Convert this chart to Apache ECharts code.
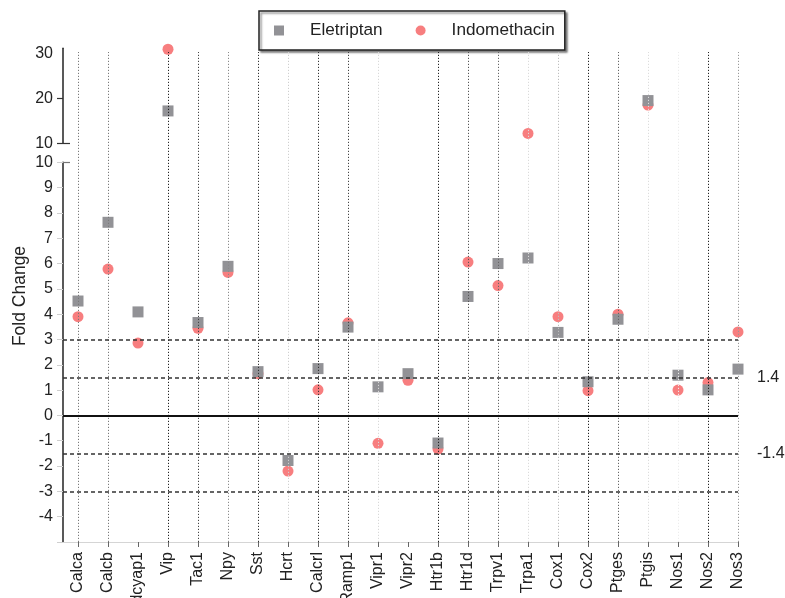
<!DOCTYPE html>
<html><head><meta charset="utf-8">
<script src="https://cdn.jsdelivr.net/npm/echarts@6/dist/echarts.min.js"></script>
<style>html,body{margin:0;padding:0;background:#fff}#c{width:785px;height:598px}</style>
</head><body><div id="c"></div>
<script>
// ---- data ----
const genes = ['Calca','Calcb','Adcyap1','Vip','Tac1','Npy','Sst','Hcrt','Calcrl','Ramp1','Vipr1','Vipr2','Htr1b','Htr1d','Trpv1','Trpa1','Cox1','Cox2','Ptges','Ptgis','Nos1','Nos2','Nos3'];
const eletriptan   = [4.52, 7.63, 4.09, 17.2, 3.67, 5.89, 1.73, -1.78, 1.85, 3.49, 1.13, 1.65, -1.09, 4.70, 6.00, 6.22, 3.28, 1.33, 3.80, 19.5, 1.59, 1.01, 1.83];
const indomethacin = [3.90, 5.78, 2.86, 30.9, 3.44, 5.65, 1.65, -2.20, 1.01, 3.66, -1.10, 1.39, -1.33, 6.06, 5.13, 12.2, 3.90, 0.98, 4.00, 18.5, 1.00, 1.30, 3.30];
const upperTickValues = [10, 20, 30];
const lowerTickValues = [-4, -3, -2, -1, 0, 1, 2, 3, 4, 5, 6, 7, 8, 9, 10];
const thresholds = [3, 1.5, -1.5, -3];
const thresholdLabels = ['', '1.4', '-1.4', ''];
const breakValue = 10;

// ---- styles ----
const guideShade = ['#7a7a7a','#7a7a7a',null,'#222','#444','#8a8a8a','#333','#cfcfcf','#333','#444','#d8d8d8',null,'#222','#555','#666','#dadada','#bdbdbd','#222','#666','#dcdcdc','#ececec','#222','#999'];
const FONT = "'Liberation Sans', Arial, sans-serif";
const GRAY = '#929296', RED = '#f77e7f';

const idx = genes.map((g, i) => i);
const lowerPart = arr => arr.map((v, i) => v <= breakValue ? [i, v] : null).filter(Boolean);
const upperPart = arr => arr.map((v, i) => v > breakValue ? [i, v] : null).filter(Boolean);

const chart = echarts.init(document.getElementById('c'), null, {renderer: 'canvas'});
const gridLR = {left: 63, right: 47, containLabel: false, outerBoundsMode: 'none'};
const option = {
  animation: false,
  textStyle: {fontFamily: FONT},
  legend: {
    left: 259, top: 11,
    padding: [11, 10, 11, 15],
    itemGap: 33, itemWidth: 10, itemHeight: 10,
    borderColor: '#222', borderWidth: 1.5, backgroundColor: '#fff',
    shadowColor: 'rgba(0,0,0,0.45)', shadowBlur: 2, shadowOffsetX: 2, shadowOffsetY: 2,
    textStyle: {fontSize: 17.2, color: '#222', fontFamily: FONT, padding: [0, 0, 0, 21]},
    data: [{name: 'Eletriptan', icon: 'rect'}, {name: 'Indomethacin', icon: 'circle'}]
  },
  graphic: [{
    type: 'text', x: 20, y: 296, rotation: Math.PI / 2,
    style: {text: 'Fold Change', fontSize: 17.5, fill: '#222', align: 'center', verticalAlign: 'middle', fontFamily: FONT}
  }],
  grid: [
    Object.assign({top: 48.35, height: 95}, gridLR),
    Object.assign({top: 162.3, bottom: 56}, gridLR),
    Object.assign({top: 52, bottom: 56}, gridLR)
  ],
  xAxis: [
    {type: 'value', gridIndex: 0, min: -0.5, max: genes.length - 1, show: false},
    {type: 'value', gridIndex: 1, min: -0.5, max: genes.length - 1,
      splitLine: {show: false},
      axisLine: {onZero: false, lineStyle: {color: '#d5d5d5', width: 1}},
      axisTick: {customValues: idx, length: 5, lineStyle: {color: '#666'}},
      axisLabel: {customValues: idx, formatter: v => genes[Math.round(v)], rotate: 90, margin: 10, fontSize: 16, color: '#222', fontFamily: FONT}
    },
    {type: 'value', gridIndex: 2, min: -0.5, max: genes.length - 1, show: false}
  ],
  yAxis: [
    {type: 'value', gridIndex: 0, position: 'left', min: 10, max: 31.1,
      splitLine: {show: false},
      axisLine: {show: true, onZero: false, lineStyle: {color: '#222', width: 1.5}},
      axisTick: {show: true, customValues: [10, 20], length: 6, lineStyle: {color: '#333', width: 1.2}},
      axisLabel: {customValues: upperTickValues, margin: 10, fontSize: 16, color: '#222', fontFamily: FONT}
    },
    {type: 'value', gridIndex: 1, position: 'left', min: -5, max: 10, interval: 1,
      splitLine: {show: false},
      axisLine: {show: true, onZero: false, lineStyle: {color: '#222', width: 1.5}},
      axisTick: {show: true, length: 6, lineStyle: {color: '#cfcfcf'}},
      axisLabel: {margin: 10, fontSize: 16, color: '#222', fontFamily: FONT,
        formatter: v => lowerTickValues.indexOf(v) >= 0 ? String(v) : ''}
    },
    {type: 'value', gridIndex: 2, min: 0, max: 1, show: false},
    {type: 'value', gridIndex: 0, position: 'left', offset: 0, min: 10, max: 31.1, splitLine: {show: false},
      axisLine: {show: false, onZero: false}, axisLabel: {show: false},
      axisTick: {show: true, inside: true, customValues: [breakValue], length: 7, lineStyle: {color: '#333', width: 1.2}}
    },
    {type: 'value', gridIndex: 1, position: 'left', offset: 0, min: -5, max: 10, interval: 1, splitLine: {show: false},
      axisLine: {show: false, onZero: false}, axisLabel: {show: false},
      axisTick: {show: true, inside: true, customValues: [breakValue], length: 7, lineStyle: {color: '#777', width: 1.2}}
    }
  ],
  series: [
    {type: 'line', name: 'guides', xAxisIndex: 2, yAxisIndex: 2, data: [], z: 1,
      markLine: {silent: true, symbol: 'none', label: {show: false}, animation: false,
        data: idx.filter(i => guideShade[i]).map(i => ({xAxis: i, lineStyle: {color: guideShade[i], type: [1.2, 1.8], width: 1}}))
      }
    },
    {type: 'line', name: 'thresholds', xAxisIndex: 1, yAxisIndex: 1, data: [], z: 1,
      markLine: {silent: true, symbol: 'none', animation: false,
        data: [{yAxis: 0, lineStyle: {color: '#111', type: 'solid', width: 2}, label: {show: false}}].concat(
          thresholds.map((t, k) => ({yAxis: t,
            lineStyle: {color: '#333', type: [4, 3], width: 1.5},
            label: {show: !!thresholdLabels[k], formatter: thresholdLabels[k], position: 'end', distance: 19, fontSize: 16, color: '#222', fontFamily: FONT}})))
      }
    },
    {type: 'scatter', name: 'Indomethacin', xAxisIndex: 1, yAxisIndex: 1, symbol: 'circle', symbolSize: 11, z: 3,
      itemStyle: {color: RED, opacity: 1}, data: lowerPart(indomethacin)},
    {type: 'scatter', name: 'Indomethacin', xAxisIndex: 0, yAxisIndex: 0, symbol: 'circle', symbolSize: 11, z: 3,
      itemStyle: {color: RED, opacity: 1}, data: upperPart(indomethacin)},
    {type: 'scatter', name: 'Eletriptan', xAxisIndex: 1, yAxisIndex: 1, symbol: 'rect', symbolSize: 11, z: 4,
      itemStyle: {color: GRAY, opacity: 1}, data: lowerPart(eletriptan)},
    {type: 'scatter', name: 'Eletriptan', xAxisIndex: 0, yAxisIndex: 0, symbol: 'rect', symbolSize: 11, z: 4,
      itemStyle: {color: GRAY, opacity: 1}, data: upperPart(eletriptan)}
  ]
};
chart.setOption(option);
</script>
</body></html>
